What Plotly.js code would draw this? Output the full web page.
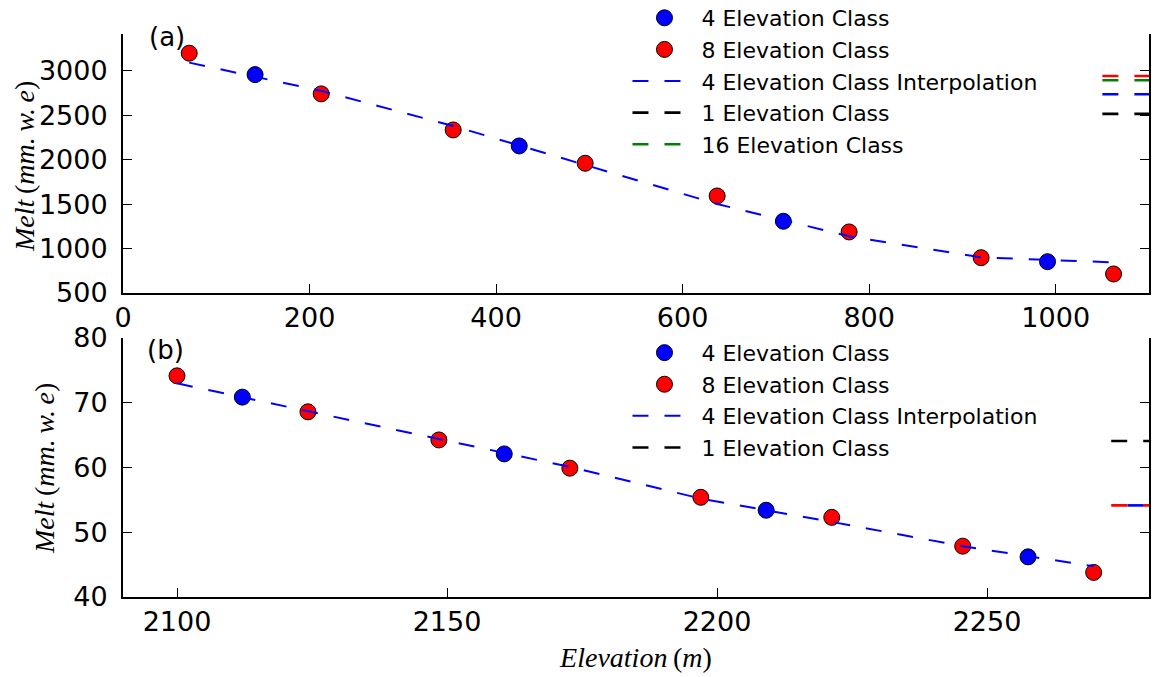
<!DOCTYPE html>
<html><head><meta charset="utf-8">
<script src="https://cdn.plot.ly/plotly-3.0.1.min.js"></script>
<style>html,body{margin:0;padding:0;background:#fff}</style>
</head><body>
<div id="chart" style="width:1155px;height:677px"></div>
<script>
// ---------- Panel (a) ----------
const elevA4 = [141.6, 424.8, 708, 991.2];
const meltA4 = [2958, 2155, 1307, 852];
const elevA8 = [71, 212.5, 354, 495.5, 637, 778.5, 920, 1062];
const meltA8 = [3199, 2741, 2335, 1960, 1592, 1187, 897, 714];
const interpA = [3093, 2775, 2380, 1938, 1502, 1138, 900, 845];
const refElevA = [1050, 1100];
const meltA1 = [2516, 2516];
const meltA16 = [2895, 2895];
const meltA8ref = [2943, 2943];
const meltA4ref = [2737, 2737];
// ---------- Panel (b) ----------
const elevB4 = [2112.1, 2160.6, 2209.1, 2257.6];
const meltB4 = [70.87, 62.1, 53.4, 46.2];
const elevB8 = [2100, 2124.25, 2148.5, 2172.75, 2197, 2221.25, 2245.5, 2269.75];
const meltB8 = [74.16, 68.6, 64.26, 59.9, 55.4, 52.3, 47.85, 43.8];
const interpB = [73.0, 68.75, 64.4, 60.1, 55.2, 51.6, 47.85, 44.75];
const refElevB8 = [2273, 2280];
const refElevB4 = [2276, 2280];
const meltB1 = [64.1, 64.1];
const meltB8ref = [54.15, 54.15];
const meltB4ref = [54.15, 54.15];

const names = ['4 Elevation Class', '8 Elevation Class', '4 Elevation Class Interpolation', '1 Elevation Class', '16 Elevation Class'];
const BLUE = '#0000ff', RED = '#ff0000', GREEN = '#008000', BLACK = '#000000';
const DASH = '16px,16px';

function pts(x, y, color, name, xa, ya, lg, grp) {
  return {x: x, y: y, mode: 'markers', type: 'scatter', name: name, xaxis: xa, yaxis: ya,
    legend: lg, legendgroup: grp, cliponaxis: false,
    marker: {color: color, size: 16, line: {color: BLACK, width: 1}}};
}
function ln(x, y, color, width, name, xa, ya, lg, grp, show) {
  return {x: x, y: y, mode: 'lines', type: 'scatter', name: name, xaxis: xa, yaxis: ya,
    legend: lg, legendgroup: grp, showlegend: show,
    line: {color: color, width: width, dash: DASH}};
}

const data = [
  pts(elevA4, meltA4, BLUE, names[0], 'x', 'y', 'legend', 'a1'),
  pts(elevA8, meltA8, RED, names[1], 'x', 'y', 'legend', 'a2'),
  ln(elevA8, interpA, BLUE, 2, names[2], 'x', 'y', 'legend', 'a3', true),
  ln(refElevA, meltA1, BLACK, 2.6, names[3], 'x', 'y', 'legend', 'a4', true),
  ln(refElevA, meltA16, GREEN, 2.6, names[4], 'x', 'y', 'legend', 'a5', true),
  ln(refElevA, meltA8ref, RED, 2.6, names[1], 'x', 'y', 'legend', 'a6', false),
  ln(refElevA, meltA4ref, BLUE, 2.6, names[0], 'x', 'y', 'legend', 'a7', false),

  pts(elevB4, meltB4, BLUE, names[0], 'x2', 'y2', 'legend2', 'b1'),
  pts(elevB8, meltB8, RED, names[1], 'x2', 'y2', 'legend2', 'b2'),
  ln(elevB8, interpB, BLUE, 2, names[2], 'x2', 'y2', 'legend2', 'b3', true),
  ln(refElevB8, meltB1, BLACK, 2.6, names[3], 'x2', 'y2', 'legend2', 'b4', true),
  ln(refElevB8, meltB8ref, RED, 2.6, names[1], 'x2', 'y2', 'legend2', 'b5', false),
  ln(refElevB4, meltB4ref, BLUE, 2.6, names[0], 'x2', 'y2', 'legend2', 'b6', false)
];

const tickFont = {family: 'DejaVu Sans', size: 27, color: '#000'};
const titleFont = {family: 'Liberation Serif', size: 28, color: '#000'};
function axis(extra) {
  return Object.assign({showline: true, linecolor: '#000', linewidth: 2, ticks: 'inside', ticklen: 9,
    tickwidth: 1, tickcolor: '#000', showgrid: false, zeroline: false, tickfont: tickFont}, extra);
}
const legFont = {family: 'DejaVu Sans', size: 22, color: '#000'};
function leg(y) {
  return {x: 0.4917, xanchor: 'left', y: y, yanchor: 'top', bgcolor: 'rgba(0,0,0,0)', borderwidth: 0,
    font: legFont, itemwidth: 64, tracegroupgap: 0};
}
const yTitle = '<i>Melt</i>\u2009(<i>mm.\u2009w.\u2009e</i>)';

const layout = {
  width: 1155, height: 677,
  margin: {l: 123, r: 6, t: 34, b: 80, autoexpand: false},
  paper_bgcolor: '#fff', plot_bgcolor: '#fff',
  showlegend: true,
  xaxis: axis({domain: [0, 1], anchor: 'y', range: [0, 1100], tick0: 0, dtick: 200, mirror: false}),
  yaxis: axis({domain: [0.54, 1], anchor: 'x', range: [500, 3415], tick0: 500, dtick: 500, mirror: 'ticks',
    ticklabelstandoff: 8}),
  xaxis2: axis({domain: [0, 1], anchor: 'y2', range: [2090, 2280], tick0: 2100, dtick: 50, mirror: false,
    title: {text: '<i>Elevation</i>\u2009(<i>m</i>)', font: titleFont, standoff: 11}}),
  yaxis2: axis({domain: [0, 0.46], anchor: 'x2', range: [40, 80], tick0: 40, dtick: 10, mirror: 'ticks',
    ticklabelstandoff: 8}),
  legend: leg(1.0657),
  legend2: leg(0.471),
  annotations: [
    {text: '(a)', xref: 'paper', yref: 'paper', x: 0.0234, y: 0.9947, xanchor: 'left', yanchor: 'middle',
      showarrow: false, font: {family: 'DejaVu Sans', size: 26, color: '#000'}},
    {text: '(b)', xref: 'paper', yref: 'paper', x: 0.0214, y: 0.4387, xanchor: 'left', yanchor: 'middle',
      showarrow: false, font: {family: 'DejaVu Sans', size: 26, color: '#000'}},
    {text: yTitle, xref: 'paper', yref: 'paper', x: -0.0955, y: 0.7638, xanchor: 'center', yanchor: 'middle',
      textangle: -90, showarrow: false, font: titleFont},
    {text: yTitle, xref: 'paper', yref: 'paper', x: -0.0760, y: 0.2274, xanchor: 'center', yanchor: 'middle',
      textangle: -90, showarrow: false, font: titleFont}
  ]
};

Plotly.newPlot('chart', data, layout, {displayModeBar: false, staticPlot: true});
</script>
</body></html>
